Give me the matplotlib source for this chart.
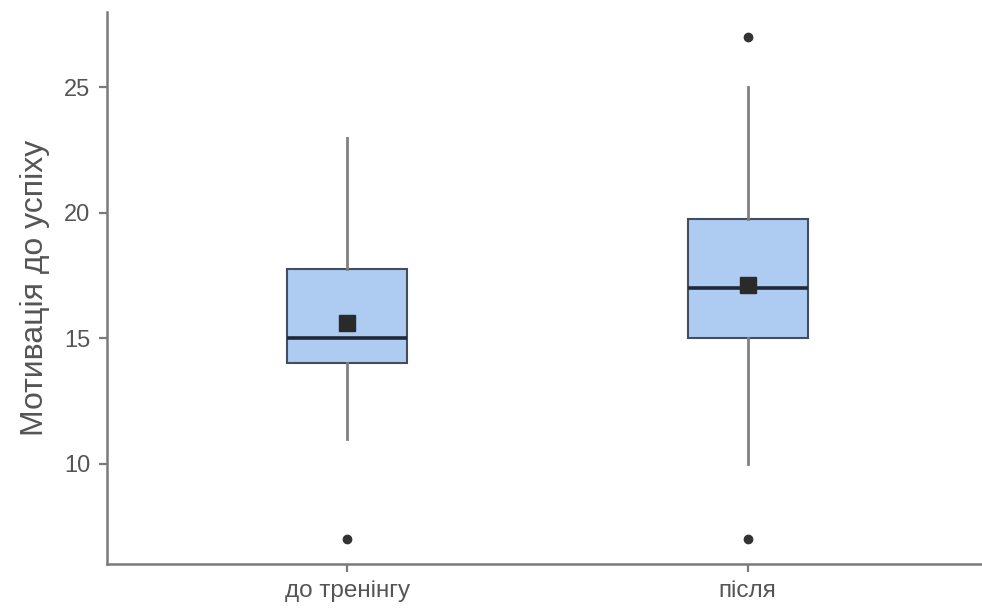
import matplotlib.pyplot as plt

# group statistics for the two measurements
groups = ['до тренінгу', 'після']
q1 = [14, 15]
medians = [15, 17]
q3 = [17.75, 19.75]
whisker_low = [11, 10]
whisker_high = [23, 25]
means = [15.6, 17.12]
outliers = [[7], [7, 27]]

plt.rcParams['font.family'] = ['Liberation Sans', 'DejaVu Sans']

fig = plt.figure(figsize=(9.82, 6.08), dpi=100)
ax = fig.add_axes([0.109, 0.072, 0.897, 0.908])

stats = []
for i, name in enumerate(groups):
    stats.append({
        'label': name,
        'q1': q1[i], 'med': medians[i], 'q3': q3[i],
        'whislo': whisker_low[i], 'whishi': whisker_high[i],
        'mean': means[i], 'fliers': outliers[i],
    })

edge = '#434d5e'
ax.bxp(stats, positions=[1, 2], widths=0.3, patch_artist=True,
       showmeans=True, showcaps=False,
       boxprops=dict(facecolor='#aecbf2', edgecolor=edge, linewidth=1.5),
       medianprops=dict(color='#1e2838', linewidth=2.6),
       whiskerprops=dict(color='#808080', linewidth=2.0),
       meanprops=dict(marker='s', markerfacecolor='#2a2a2a', markeredgecolor='#2a2a2a',
                      markersize=11.5),
       flierprops=dict(marker='o', markerfacecolor='#333333', markeredgecolor='#333333',
                       markersize=6))

ax.set_xlim(0.4, 2.6)
ax.set_ylim(6, 28)
ax.set_yticks([10, 15, 20, 25])
ax.set_xticks([1, 2])
ax.set_xticklabels(groups)

for side in ['top', 'right']:
    ax.spines[side].set_visible(False)
for side in ['left', 'bottom']:
    ax.spines[side].set_color('#7a7a7a')
    ax.spines[side].set_linewidth(1.8)

ax.tick_params(axis='both', colors='#7a7a7a', width=1.6, length=6, labelsize=17,
               labelcolor='#555555', pad=6)
ax.tick_params(axis='x', labelsize=17.5, pad=5)
ax.set_ylabel('Мотивація до успіху', fontsize=23, color='#555555', labelpad=10)

fig.savefig('out.png', dpi=100)
